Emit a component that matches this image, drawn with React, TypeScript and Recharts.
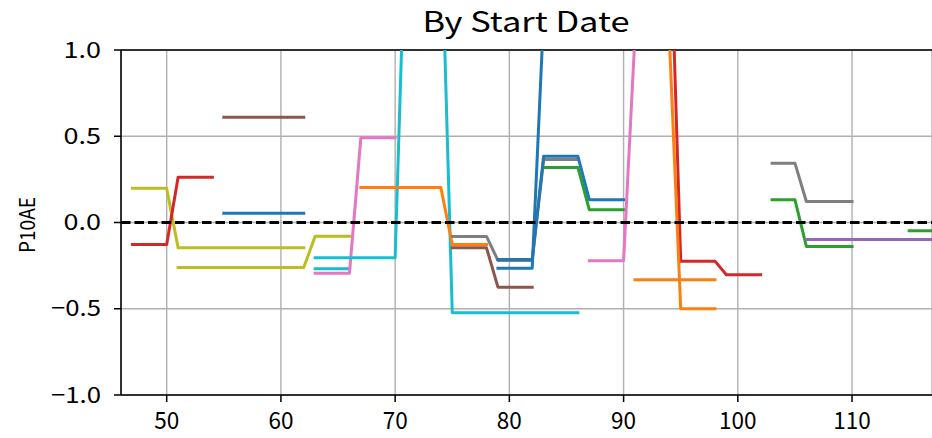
import { LineChart, Line, XAxis, YAxis, CartesianGrid, ReferenceLine } from 'recharts';

// tab10 colours
const C = {
  blue: '#1f77b4',
  orange: '#ff7f0e',
  green: '#2ca02c',
  red: '#d62728',
  purple: '#9467bd',
  brown: '#8c564b',
  pink: '#e377c2',
  gray: '#7f7f7f',
  olive: '#bcbd22',
  cyan: '#17becf',
};

// each cohort: first start date + P10AE per following date
const oliveA = { start: 47, y: [0.199, 0.199, 0.199, 0.199, -0.147, -0.147, -0.147, -0.147, -0.147, -0.147, -0.147, -0.147, -0.147, -0.147, -0.147, -0.147] };
const redA = { start: 47, y: [-0.127, -0.127, -0.127, -0.127, 0.262, 0.262, 0.262, 0.262] };
const oliveB = { start: 51, y: [-0.261, -0.261, -0.261, -0.261, -0.261, -0.261, -0.261, -0.261, -0.261, -0.261, -0.261, -0.261, -0.079, -0.079, -0.079, -0.079] };
const brownA = { start: 55, y: [0.61, 0.61, 0.61, 0.61, 0.61, 0.61, 0.61, 0.61] };
const blueA = { start: 55, y: [0.054, 0.054, 0.054, 0.054, 0.054, 0.054, 0.054, 0.054] };
const cyanA = { start: 63, y: [-0.205, -0.205, -0.205, -0.205, -0.205, -0.205, -0.205, -0.205, 1.95, 1.9, 1.86, 1.82, -0.523, -0.523, -0.523, -0.523, -0.523, -0.523, -0.523, -0.523, -0.523, -0.523, -0.523, -0.523] };
const cyanB = { start: 63, y: [-0.268, -0.268, -0.268, -0.268] };
const pinkA = { start: 63, y: [-0.294, -0.294, -0.294, -0.294, 0.492, 0.492, 0.492, 0.492] };
const orangeA = { start: 67, y: [0.203, 0.203, 0.203, 0.203, 0.203, 0.203, 0.203, 0.203, -0.127, -0.127, -0.127, -0.127] };
const grayA = { start: 75, y: [-0.081, -0.081, -0.081, -0.081, -0.22, -0.22, -0.22, -0.22, 0.365, 0.365, 0.365, 0.365] };
const brownB = { start: 75, y: [-0.147, -0.147, -0.147, -0.147, -0.375, -0.375, -0.375, -0.375] };
const greenA = { start: 83, y: [0.319, 0.319, 0.319, 0.319, 0.074, 0.074, 0.074, 0.074] };
const blueB = { start: 79, y: [-0.214, -0.214, -0.214, -0.214, 0.384, 0.384, 0.384, 0.384, 0.132, 0.132, 0.132, 0.132] };
const blueC = { start: 79, y: [-0.265, -0.265, -0.265, -0.265, 1.2] };
const pinkB = { start: 87, y: [-0.222, -0.222, -0.222, -0.222, 1.09] };
const orangeB = { start: 91, y: [-0.332, -0.332, -0.332, -0.332, -0.332, -0.332, -0.332, -0.332] };
const orangeC = { start: 94, y: [1.08, -0.5, -0.5, -0.5, -0.5] };
const redB = { start: 94, y: [1.93, -0.224, -0.224, -0.224, -0.224, -0.303, -0.303, -0.303, -0.303] };
const grayB = { start: 103, y: [0.344, 0.344, 0.344, 0.122, 0.122, 0.122, 0.122, 0.122] };
const greenB = { start: 103, y: [0.132, 0.132, 0.132, -0.139, -0.139, -0.139, -0.139, -0.139] };
const purpleA = { start: 106, y: [-0.098, -0.098, -0.098, -0.098, -0.098, -0.098, -0.098, -0.098, -0.098, -0.098, -0.098, -0.098] };
const greenC = { start: 115, y: [-0.048, -0.048, -0.048] };

const series = [
  { s: oliveA, c: C.olive },
  { s: redA, c: C.red },
  { s: oliveB, c: C.olive },
  { s: brownA, c: C.brown },
  { s: blueA, c: C.blue },
  { s: cyanB, c: C.cyan },
  { s: pinkA, c: C.pink },
  { s: cyanA, c: C.cyan },
  { s: orangeA, c: C.orange },
  { s: brownB, c: C.brown },
  { s: grayA, c: C.gray },
  { s: greenA, c: C.green },
  { s: blueC, c: C.blue },
  { s: blueB, c: C.blue },
  { s: pinkB, c: C.pink },
  { s: orangeB, c: C.orange },
  { s: redB, c: C.red },
  { s: orangeC, c: C.orange },
  { s: grayB, c: C.gray },
  { s: greenB, c: C.green },
  { s: purpleA, c: C.purple },
  { s: greenC, c: C.green },
];

const xTicks = [50, 60, 70, 80, 90, 100, 110];
const yTicks = [-1, -0.5, 0, 0.5, 1];

const FONT = '"Noto Sans CJK SC", "DejaVu Sans", sans-serif';

const fmtY = (v: number) => (v < 0 ? '\u2212' : '') + Math.abs(v).toFixed(1);

function XTick({ x, y, payload }: any) {
  const label = String(payload.value);
  return (
    <text
      x={x}
      y={y}
      dy={27}
      textAnchor="middle"
      fontFamily={FONT}
      fontSize={24}
      fill="#000"
      textLength={label.length * 12.5}
      lengthAdjust="spacingAndGlyphs"
    >
      {label}
    </text>
  );
}

function YTick({ x, y, payload }: any) {
  const label = fmtY(payload.value);
  return (
    <text
      x={x}
      y={y}
      dy={7.5}
      textAnchor="end"
      fontFamily={FONT}
      fontSize={22}
      fill="#000"
      textLength={label.length * 12.5}
      lengthAdjust="spacingAndGlyphs"
    >
      {label}
    </text>
  );
}

export default function App() {
  return (
    <div style={{ position: 'absolute', left: 0, top: 0, width: 932, height: 438, background: '#fff' }}>
      <LineChart width={932} height={438} margin={{ top: 50, right: 0, left: 0, bottom: 0 }}>
        <CartesianGrid stroke="#b0b0b0" strokeWidth={1.4} />
        <XAxis
          dataKey="x"
          type="number"
          domain={[46, 117]}
          ticks={xTicks}
          allowDataOverflow
          height={43}
          tickSize={7}
          tickMargin={0}
          axisLine={{ stroke: '#000', strokeWidth: 1.5 }}
          tickLine={{ stroke: '#000', strokeWidth: 1.5 }}
          tick={<XTick />}
        />
        <YAxis
          type="number"
          domain={[-1, 1]}
          ticks={yTicks}
          allowDataOverflow
          width={121}
          tickSize={7}
          tickMargin={13}
          axisLine={{ stroke: '#000', strokeWidth: 1.5 }}
          tickLine={{ stroke: '#000', strokeWidth: 1.5 }}
          tick={<YTick />}
        />
        <ReferenceLine y={1} stroke="#000" strokeWidth={1.5} />
        {series.map((d, i) => (
          <Line
            key={i}
            data={d.s.y.map((v, j) => ({ x: d.s.start + j, y: v }))}
            dataKey="y"
            type="linear"
            stroke={d.c}
            strokeWidth={3}
            strokeLinecap="square"
            strokeLinejoin="round"
            dot={false}
            activeDot={false}
            isAnimationActive={false}
          />
        ))}
        <ReferenceLine y={0} stroke="#000" strokeWidth={2.8} strokeDasharray="9.5 4" />
      </LineChart>
      <svg width={932} height={438} style={{ position: 'absolute', left: 0, top: 0, pointerEvents: 'none' }}>
        <text
          x={526}
          y={32}
          textAnchor="middle"
          fontFamily={FONT}
          fontSize={28}
          textLength={207}
          lengthAdjust="spacingAndGlyphs"
        >
          By Start Date
        </text>
        <text
          x={35}
          y={225}
          transform="rotate(-90, 35, 225)"
          textAnchor="middle"
          fontFamily={FONT}
          fontSize={21}
          textLength={56}
          lengthAdjust="spacingAndGlyphs"
        >
          P10AE
        </text>
      </svg>
    </div>
  );
}
